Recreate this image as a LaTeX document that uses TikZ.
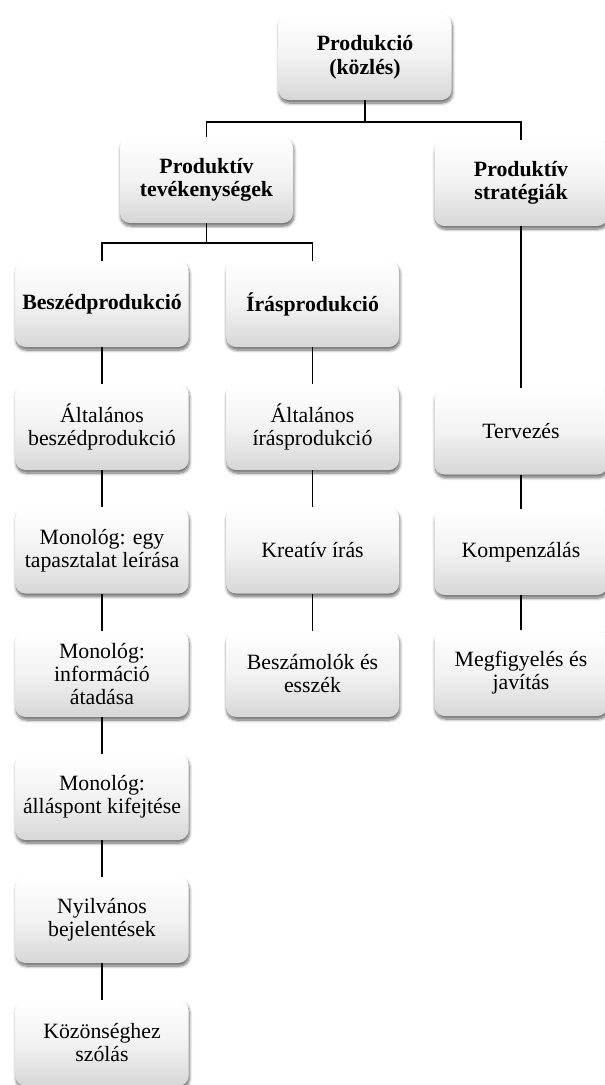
\documentclass[tikz,border=0pt]{standalone}
\usepackage{fontspec}
\setmainfont{Liberation Serif}
\usetikzlibrary{shadows.blur}

\tikzset{
  card/.style={
    rectangle, rounded corners=10pt,
    minimum width=173pt, minimum height=86pt,
    top color=white, bottom color=black!16, middle color=white!95!black,
    draw=none,
    blur shadow={shadow xshift=0.8pt, shadow yshift=-3pt,
                 shadow blur radius=3pt, shadow blur steps=8,
                 shadow opacity=60},
    align=center, inner sep=4pt,
    font=\fontsize{21.8}{23}\selectfont
  },
  headcard/.style={card, font=\fontsize{21.8}{23.5}\selectfont\bfseries},
  link/.style={draw=black, line width=1.5pt}
}

\begin{document}
\begin{tikzpicture}[x=1pt, y=-1pt]
  \useasboundingbox (0,0) rectangle (605,1085);

  % top level
  \node[headcard] (prod) at (365,57) {Produkció\\(közlés)};

  % second level
  \node[headcard] (tev) at (206.5,180) {Produktív\\tevékenységek};
  \node[headcard] (str) at (521,183) {Produktív\\stratégiák};

  % third level
  \node[headcard] (besz) at (102,304) {Beszédprodukció};
  \node[headcard] (iras) at (312.5,304) {Írásprodukció};

  % speaking column
  \node[card] (b1) at (102,427)  {Általános\\beszédprodukció};
  \node[card] (b2) at (102,550.5){Monológ: egy\\tapasztalat leírása};
  \node[card] (b3) at (102,674)  {Monológ:\\információ\\átadása};
  \node[card] (b4) at (102,797)  {Monológ:\\álláspont kifejtése};
  \node[card] (b5) at (102,920)  {Nyilvános\\bejelentések};
  \node[card] (b6) at (102,1043) {Közönséghez\\szólás};

  % writing column
  \node[card] (i1) at (312.5,427)  {Általános\\írásprodukció};
  \node[card] (i2) at (312.5,550.5){Kreatív írás};
  \node[card] (i3) at (312.5,674)  {Beszámolók és\\esszék};

  % strategies column
  \node[card] (s1) at (521,431.5) {Tervezés};
  \node[card] (s2) at (521,552)   {Kompenzálás};
  \node[card] (s3) at (521,673)   {Megfigyelés és\\javítás};

  % junctions of the elbow connectors
  \coordinate (j1) at (365,122);
  \coordinate (j2) at (206.5,243);

  \draw[link] (prod.south) -- (j1) -| (tev.north);
  \draw[link] (j1) -| (str.north);
  \draw[link] (tev.south) -- (j2) -| (besz.north);
  \draw[link] (j2) -| (iras.north);

  \draw[link] (besz.south) -- (b1.north);
  \draw[link] (b1.south) -- (b2.north);
  \draw[link] (b2.south) -- (b3.north);
  \draw[link] (b3.south) -- (b4.north);
  \draw[link] (b4.south) -- (b5.north);
  \draw[link] (b5.south) -- (b6.north);

  \draw[link] (iras.south) -- (i1.north);
  \draw[link] (i1.south) -- (i2.north);
  \draw[link] (i2.south) -- (i3.north);

  \draw[link] (str.south) -- (s1.north);
  \draw[link] (s1.south) -- (s2.north);
  \draw[link] (s2.south) -- (s3.north);
\end{tikzpicture}
\end{document}
